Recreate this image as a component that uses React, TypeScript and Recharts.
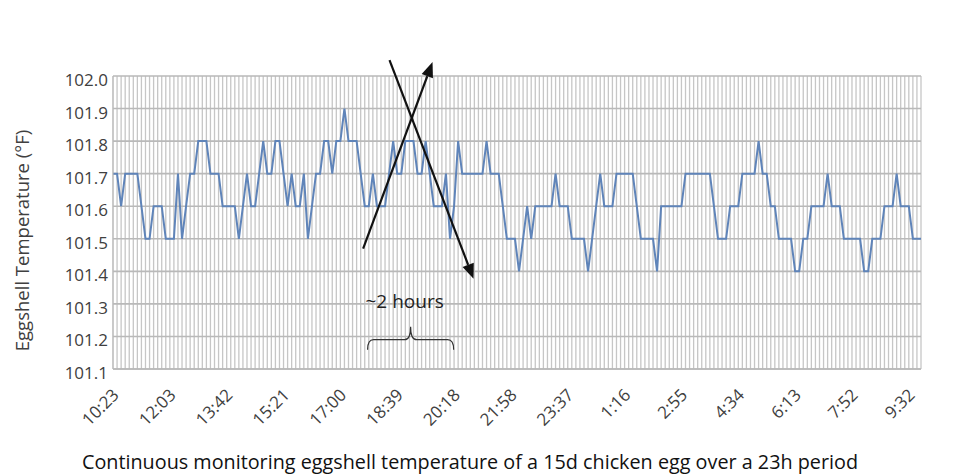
import React from 'react';
import { LineChart, Line, XAxis, YAxis, CartesianGrid, ReferenceLine } from 'recharts';

const tickLabels = ['10:23', '12:03', '13:42', '15:21', '17:00', '18:39', '20:18', '21:58', '23:37', '1:16', '2:55', '4:34', '6:13', '7:52', '9:32'];
const labelEvery = 14;

// eggshell temperature (°F), one reading per sample
const temps = [
  101.7, 101.7, 101.6, 101.7, 101.7, 101.7, 101.7, 101.6, 101.5, 101.5,
  101.6, 101.6, 101.6, 101.5, 101.5, 101.5, 101.7, 101.5, 101.6, 101.7,
  101.7, 101.8, 101.8, 101.8, 101.7, 101.7, 101.7, 101.6, 101.6, 101.6,
  101.6, 101.5, 101.6, 101.7, 101.6, 101.6, 101.7, 101.8, 101.7, 101.7,
  101.8, 101.8, 101.7, 101.6, 101.7, 101.6, 101.6, 101.7, 101.5, 101.6,
  101.7, 101.7, 101.8, 101.8, 101.7, 101.8, 101.8, 101.9, 101.8, 101.8,
  101.8, 101.7, 101.6, 101.6, 101.7, 101.6, 101.6, 101.6, 101.7, 101.8,
  101.7, 101.7, 101.8, 101.8, 101.8, 101.7, 101.7, 101.8, 101.7, 101.6,
  101.6, 101.6, 101.7, 101.5, 101.6, 101.8, 101.7, 101.7, 101.7, 101.7,
  101.7, 101.7, 101.8, 101.7, 101.7, 101.7, 101.6, 101.5, 101.5, 101.5,
  101.4, 101.5, 101.6, 101.5, 101.6, 101.6, 101.6, 101.6, 101.6, 101.7,
  101.6, 101.6, 101.6, 101.5, 101.5, 101.5, 101.5, 101.4, 101.5, 101.6,
  101.7, 101.6, 101.6, 101.6, 101.7, 101.7, 101.7, 101.7, 101.7, 101.6,
  101.5, 101.5, 101.5, 101.5, 101.4, 101.6, 101.6, 101.6, 101.6, 101.6,
  101.6, 101.7, 101.7, 101.7, 101.7, 101.7, 101.7, 101.7, 101.6, 101.5,
  101.5, 101.5, 101.6, 101.6, 101.6, 101.7, 101.7, 101.7, 101.7, 101.8,
  101.7, 101.7, 101.6, 101.6, 101.5, 101.5, 101.5, 101.5, 101.4, 101.4,
  101.5, 101.5, 101.6, 101.6, 101.6, 101.6, 101.7, 101.6, 101.6, 101.6,
  101.5, 101.5, 101.5, 101.5, 101.5, 101.4, 101.4, 101.5, 101.5, 101.5,
  101.6, 101.6, 101.6, 101.7, 101.6, 101.6, 101.6, 101.5, 101.5, 101.5,
];

const yTicks = [101.1, 101.2, 101.3, 101.4, 101.5, 101.6, 101.7, 101.8, 101.9, 102.0];

// hand-drawn annotations, in chart units (sample index, °F)
const arrowUp = [{ x: 61.6, y: 101.47 }, { x: 78.7, y: 102.043 }];
const arrowDown = [{ x: 68.1, y: 102.049 }, { x: 88.8, y: 101.377 }];
const brace = [{ x: 62.7, y: 101.19 }, { x: 83.9, y: 101.19 }];

const data = temps.map((temp, i) => ({ i, temp }));
const xTicks = data.map((d) => d.i);

const font = '"Open Sans", sans-serif';
const tickColor = '#404040';

const XTick = (props: any) => {
  const { x, y, payload } = props;
  const idx = payload.value;
  if (idx % labelEvery !== 0) return null;
  const ax = x + 7;
  const ay = y + 27;
  return (
    <text x={ax} y={ay} textAnchor="end" fontSize={17} fill={tickColor} fontFamily={font}
      transform={`rotate(-45, ${ax}, ${ay})`}>
      {tickLabels[idx / labelEvery]}
    </text>
  );
};

const YTick = (props: any) => {
  const { x, y, payload } = props;
  return (
    <text x={x} y={y + 4} dy="0.355em" textAnchor="end" fontSize={17} fill={tickColor} fontFamily={font}>
      {payload.value.toFixed(1)}
    </text>
  );
};

const Arrow = (p: any) => {
  const { x1, y1, x2, y2 } = p;
  const a = Math.atan2(y2 - y1, x2 - x1);
  const len = 15;
  const w = 6;
  const bx = x2 - len * Math.cos(a);
  const by = y2 - len * Math.sin(a);
  const pts = `${x2},${y2} ${bx + w * Math.sin(a)},${by - w * Math.cos(a)} ${bx - w * Math.sin(a)},${by + w * Math.cos(a)}`;
  return (
    <g>
      <line x1={x1} y1={y1} x2={bx} y2={by} stroke="#111" strokeWidth={2.2} />
      <polygon points={pts} fill="#111" />
    </g>
  );
};

const Brace = (p: any) => {
  const { x1, y1, x2 } = p;
  const m = (x1 + x2) / 2;
  const d = `M${x1},${y1 + 10} Q${x1},${y1} ${x1 + 6},${y1} L${m - 6},${y1} Q${m},${y1} ${m},${y1 - 13} Q${m},${y1} ${m + 6},${y1} L${x2 - 6},${y1} Q${x2},${y1} ${x2},${y1 + 10}`;
  return (
    <g>
      <path d={d} fill="none" stroke="#333" strokeWidth={1.2} />
      <text x={m - 6} y={y1 - 32} textAnchor="middle" fontSize={19} fill="#222" fontFamily={font}>~2 hours</text>
    </g>
  );
};

const YTitle = (props: any) => {
  const vb = props.viewBox;
  const cx = 23;
  const cy = vb.y + vb.height / 2 + 18;
  return (
    <text x={cx} y={cy} textAnchor="middle" dy="0.35em" fontSize={18.5} fill={tickColor} fontFamily={font}
      transform={`rotate(-90, ${cx}, ${cy})`}>
      Eggshell Temperature (°F)
    </text>
  );
};

export default function App() {
  return (
    <div style={{ position: 'absolute', left: 0, top: 0, width: 961, height: 475, background: '#fff', fontFamily: font }}>
      <LineChart width={961} height={440} data={data} margin={{ top: 76, right: 40, left: 0, bottom: 11 }}>
        <CartesianGrid horizontal={false} stroke="#c6c6c6" strokeWidth={1.3} />
        <CartesianGrid vertical={false} stroke="#b9b9b9" strokeWidth={1.6} />
        <XAxis
          dataKey="i"
          type="number"
          domain={[0, temps.length - 1]}
          ticks={xTicks}
          interval={0}
          tick={<XTick />}
          tickLine={false}
          tickSize={0}
          tickMargin={0}
          height={60}
          axisLine={{ stroke: '#b9b9b9', strokeWidth: 1.6 }}
        />
        <YAxis
          type="number"
          domain={[101.1, 102.0]}
          ticks={yTicks}
          interval={0}
          width={113}
          tick={<YTick />}
          tickLine={false}
          tickSize={4}
          tickMargin={1}
          axisLine={{ stroke: '#b9b9b9' }}
          label={<YTitle />}
        />
        <Line type="linear" dataKey="temp" stroke="#5f84b9" strokeWidth={2} dot={false} isAnimationActive={false} />
        <ReferenceLine segment={arrowUp} ifOverflow="visible" shape={<Arrow />} />
        <ReferenceLine segment={arrowDown} ifOverflow="visible" shape={<Arrow />} />
        <ReferenceLine segment={brace} ifOverflow="visible" shape={<Brace />} />
      </LineChart>
      <div style={{ position: 'absolute', left: 0, top: 452, width: 940, textAlign: 'center', fontSize: 19.8, lineHeight: 1, color: '#111' }}>
        Continuous monitoring eggshell temperature of a 15d chicken egg over a 23h period
      </div>
    </div>
  );
}
